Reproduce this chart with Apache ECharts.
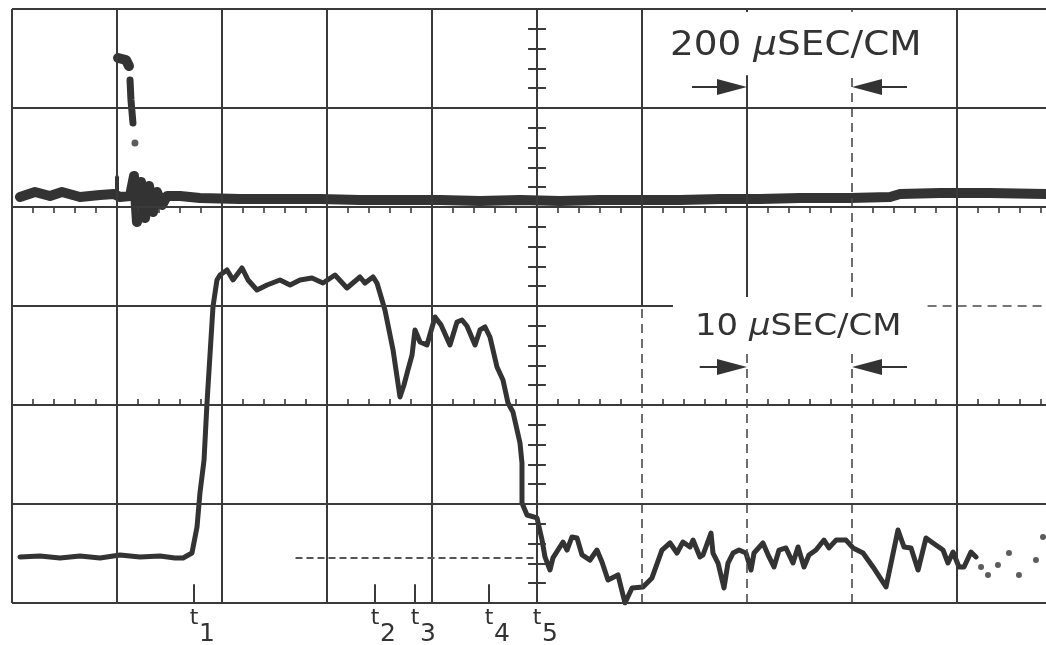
<!DOCTYPE html>
<html>
<head>
<meta charset="utf-8">
<style>
  html, body { margin: 0; padding: 0; background: #ffffff; }
  #c { width: 1046px; height: 645px; }
</style>
<script src="https://cdn.jsdelivr.net/npm/echarts@6/dist/echarts.min.js"></script>
</head>
<body>
<div id="c"></div>
<script>
// Oscilloscope photograph: two sweeps on a 10 x 6 cm graticule (right edge trimmed).
// All trace coordinates are in graticule centimetres (x: horizontal cm, y: cm above the bottom line).

// Upper trace, 200 µs/cm sweep
const slowSweep = [
  [0.076, 4.101], [0.219, 4.152], [0.362, 4.111], [0.476, 4.152], [0.648, 4.101],
  [0.838, 4.121], [0.971, 4.131], [1.029, 4.101], [1.124, 4.111], [1.162, 4.313],
  [1.190, 3.848], [1.229, 4.253], [1.267, 3.889], [1.305, 4.212], [1.343, 3.949],
  [1.381, 4.152], [1.429, 4.020], [1.476, 4.111], [1.600, 4.111], [1.790, 4.091],
  [2.171, 4.081], [2.552, 4.081], [2.933, 4.081], [3.314, 4.071], [3.695, 4.071],
  [4.076, 4.071], [4.457, 4.061], [4.838, 4.071], [5.219, 4.061], [5.600, 4.071],
  [5.981, 4.071], [6.362, 4.071], [6.743, 4.081], [7.124, 4.081], [7.505, 4.091],
  [7.981, 4.091], [8.362, 4.101], [8.457, 4.131], [8.838, 4.141], [9.314, 4.141],
  [9.840, 4.131]
];
// Upper trace: the fast-written transient, visible only as broken fragments
const spikeRise = [[1.000, 4.090], [1.000, 4.300]];
const spikeTop = [[1.010, 5.505], [1.086, 5.485], [1.114, 5.424]];
const spikeFall = [[1.124, 5.283], [1.133, 5.081], [1.152, 4.848]];
const spikeDot = [[1.171, 4.646]];

// Lower trace, 10 µs/cm sweep
const fastSweep = [
  [0.076, 0.465], [0.267, 0.475], [0.457, 0.455], [0.648, 0.475], [0.838, 0.455],
  [1.029, 0.485], [1.219, 0.465], [1.410, 0.475], [1.552, 0.455], [1.629, 0.455],
  [1.714, 0.505], [1.762, 0.768], [1.790, 1.111], [1.829, 1.444], [1.857, 2.020],
  [1.914, 2.990], [1.952, 3.263], [1.981, 3.313], [2.048, 3.364], [2.105, 3.263],
  [2.190, 3.384], [2.248, 3.263], [2.333, 3.162], [2.429, 3.212], [2.552, 3.263],
  [2.648, 3.212], [2.743, 3.263], [2.857, 3.283], [2.962, 3.232], [3.076, 3.313],
  [3.190, 3.182], [3.314, 3.293], [3.362, 3.232], [3.438, 3.293], [3.476, 3.232],
  [3.552, 2.960], [3.629, 2.556], [3.695, 2.081], [3.733, 2.202], [3.771, 2.354],
  [3.810, 2.505], [3.838, 2.758], [3.886, 2.636], [3.952, 2.606], [4.029, 2.889],
  [4.086, 2.808], [4.171, 2.606], [4.238, 2.838], [4.286, 2.859], [4.333, 2.798],
  [4.410, 2.606], [4.457, 2.758], [4.505, 2.788], [4.552, 2.687], [4.619, 2.384],
  [4.676, 2.253], [4.724, 2.020], [4.771, 1.929], [4.838, 1.616], [4.857, 1.414],
  [4.857, 1.010], [4.905, 0.889], [5.000, 0.859], [5.048, 0.636], [5.076, 0.465],
  [5.124, 0.333], [5.152, 0.455], [5.248, 0.616], [5.286, 0.535], [5.333, 0.667],
  [5.381, 0.657], [5.429, 0.485], [5.505, 0.434], [5.571, 0.535], [5.619, 0.414],
  [5.676, 0.232], [5.771, 0.283], [5.838, 0.000], [5.905, 0.152], [6.010, 0.162],
  [6.095, 0.253], [6.190, 0.535], [6.267, 0.606], [6.333, 0.505], [6.390, 0.616],
  [6.457, 0.566], [6.486, 0.636], [6.552, 0.465], [6.581, 0.485], [6.657, 0.707],
  [6.676, 0.505], [6.724, 0.404], [6.781, 0.152], [6.819, 0.404], [6.867, 0.505],
  [6.924, 0.535], [6.990, 0.505], [7.038, 0.333], [7.067, 0.505], [7.152, 0.606],
  [7.210, 0.465], [7.257, 0.364], [7.305, 0.535], [7.371, 0.556], [7.438, 0.404],
  [7.486, 0.566], [7.543, 0.364], [7.590, 0.485], [7.657, 0.535], [7.733, 0.636],
  [7.781, 0.556], [7.848, 0.636], [7.943, 0.636], [8.010, 0.556], [8.105, 0.505],
  [8.200, 0.364], [8.324, 0.162], [8.438, 0.737], [8.495, 0.566], [8.562, 0.556],
  [8.629, 0.333], [8.705, 0.657], [8.771, 0.606], [8.867, 0.535], [8.914, 0.404],
  [8.962, 0.515], [9.019, 0.364], [9.067, 0.364], [9.133, 0.515], [9.181, 0.465]
];
// Lower trace fading out at the end of the sweep
const fastSweepTail = [
  [9.229, 0.364], [9.295, 0.283], [9.390, 0.384], [9.495, 0.505],
  [9.590, 0.283], [9.752, 0.434], [9.819, 0.667]
];

// Event markers under the lower trace
const tMarks = [1.733, 3.457, 3.838, 4.543, 5.000];
const tNames = ['1', '2', '3', '4', '5'];

// Sweep-rate captions
const captions = [
  { rate: '200', unit: 'SEC/CM', arrowY: 5.212 },
  { rate: '10', unit: 'SEC/CM', arrowY: 2.384 }
];

// The photograph is trimmed a little short of the 10th centimetre
const X_MAX = 9.8476;
const PX_PER_X = 105;

const ink = '#333333';
const solid = { color: '#3a3a3a', width: 2, type: 'solid', opacity: 1 };
const dashed = { color: '#4a4a4a', width: 1.6, type: [9, 6], opacity: 1 };
const tickStyle = { color: '#3a3a3a', width: 1.6, type: 'solid', opacity: 1 };

// Graticule segments in cm
const segs = [];
function seg(x1, y1, x2, y2, st) {
  segs.push([{ coord: [Math.min(x1, X_MAX), y1], lineStyle: st }, { coord: [Math.min(x2, X_MAX), y2] }]);
}
// vertical rulings
[0, 1, 2, 3, 4, 5, 9].forEach(x => seg(x, 0, x, 6, solid));
seg(6, 3, 6, 6, solid); seg(6, 0, 6, 3, dashed);
seg(7, 5.97, 7, 6, solid); seg(7, 3.09, 7, 5.33, solid); seg(7, 0, 7, 2.53, dashed);
seg(8, 5.97, 8, 6, dashed); seg(8, 3.09, 8, 5.33, dashed); seg(8, 0, 8, 2.53, dashed);
// horizontal rulings
[0, 1, 2, 4, 5, 6].forEach(y => seg(0, y, 10, y, solid));
seg(0, 3, 6.295, 3, solid); seg(8.72, 3, 10, 3, dashed);
// fifth-cm ticks on the 2 cm and 4 cm lines
for (let k = 1; k < 50; k++) {
  if (k % 5 === 0) continue;
  const x = k / 5;
  seg(x, 2, x, 2.06, tickStyle);
  seg(x, 4, x, 3.94, tickStyle);
}
// cross ticks on the centre vertical
for (let k = 1; k < 30; k++) {
  if (k % 5 === 0) continue;
  const y = k / 5;
  seg(4.915, y, 5.085, y, solid);
}
// retrace baseline of the lower sweep
seg(2.70, 0.455, 5.0, 0.455, { color: '#555', width: 2, type: [7, 4], opacity: 1 });
// event marker ticks
tMarks.forEach(v => seg(v, 0, v, 0.19, solid));

// Arrow pairs bracketing one centimetre for each sweep caption
const HEAD = 30;
const headOff = (HEAD / 2) / PX_PER_X;
const arrows = [];
captions.forEach((c, i) => {
  const tailL = i === 0 ? 6.476 : 6.55;
  arrows.push([{ coord: [tailL, c.arrowY] }, { coord: [7 - headOff, c.arrowY] }]);
  arrows.push([{ coord: [8.524, c.arrowY] }, { coord: [8 + headOff, c.arrowY] }]);
});

function traceLine(data, width, z) {
  return {
    type: 'line', data, showSymbol: false, silent: true, animation: false,
    lineStyle: { color: ink, width, cap: 'round', join: 'round' }, z: z || 3
  };
}

const chart = echarts.init(document.getElementById('c'), null, { renderer: 'canvas' });
chart.setOption({
  backgroundColor: '#ffffff',
  animation: false,
  grid: { left: 12, right: 0, top: 9, bottom: 42 },
  xAxis: { type: 'value', min: 0, max: X_MAX, show: false },
  yAxis: { type: 'value', min: 0, max: 6, show: false },
  series: [
    {
      type: 'line', data: [], silent: true, z: 1,
      markLine: { silent: true, animation: false, symbol: ['none', 'none'], label: { show: false }, data: segs }
    },
    {
      type: 'line', data: [], silent: true, z: 2,
      markLine: {
        silent: true, animation: false, symbol: ['none', 'triangle'], symbolSize: [16, HEAD],
        label: { show: false }, lineStyle: { color: ink, width: 2, type: 'solid', opacity: 1 },
        itemStyle: { color: ink }, data: arrows
      }
    },
    traceLine(slowSweep, 10),
    traceLine(spikeRise, 4),
    traceLine(spikeTop, 10),
    traceLine(spikeFall, 7),
    { type: 'scatter', data: spikeDot, symbolSize: 7, itemStyle: { color: ink }, silent: true, z: 3 },
    traceLine(fastSweep, 5),
    { type: 'scatter', data: fastSweepTail, symbolSize: 6, itemStyle: { color: ink }, silent: true, z: 3 }
  ]
});

// Text: sweep captions and event labels
const textEls = [];
const capPos = [
  { x: 670, y: 46, size: 34, sx: 1.1 },
  { x: 695, y: 327, size: 30, sx: 1.13 }
];
captions.forEach((c, i) => {
  const p = capPos[i];
  textEls.push({
    type: 'text', x: p.x, y: p.y, scaleX: p.sx, z: 10, silent: true,
    style: {
      text: '{a|' + c.rate + ' }{m|µ}{a|' + c.unit + '}',
      fill: ink, align: 'left', verticalAlign: 'middle',
      rich: {
        a: { fontFamily: 'DejaVu Sans', fontSize: p.size, fill: ink, color: ink },
        m: { fontFamily: 'DejaVu Sans', fontSize: p.size, fontStyle: 'italic', fill: ink, color: ink }
      }
    }
  });
});
tMarks.forEach((v, i) => {
  const px = chart.convertToPixel({ gridIndex: 0 }, [v, 0]);
  textEls.push({
    type: 'text', x: px[0], y: 618, z: 10, silent: true,
    style: { text: 't', fontFamily: 'DejaVu Sans', fontSize: 22, fill: ink, align: 'center', verticalAlign: 'middle' }
  });
  textEls.push({
    type: 'text', x: px[0] + 5, y: 634, z: 10, silent: true,
    style: { text: tNames[i], fontFamily: 'DejaVu Sans', fontSize: 25, fill: ink, align: 'left', verticalAlign: 'middle' }
  });
});
chart.setOption({ graphic: { elements: textEls } });
</script>
</body>
</html>
